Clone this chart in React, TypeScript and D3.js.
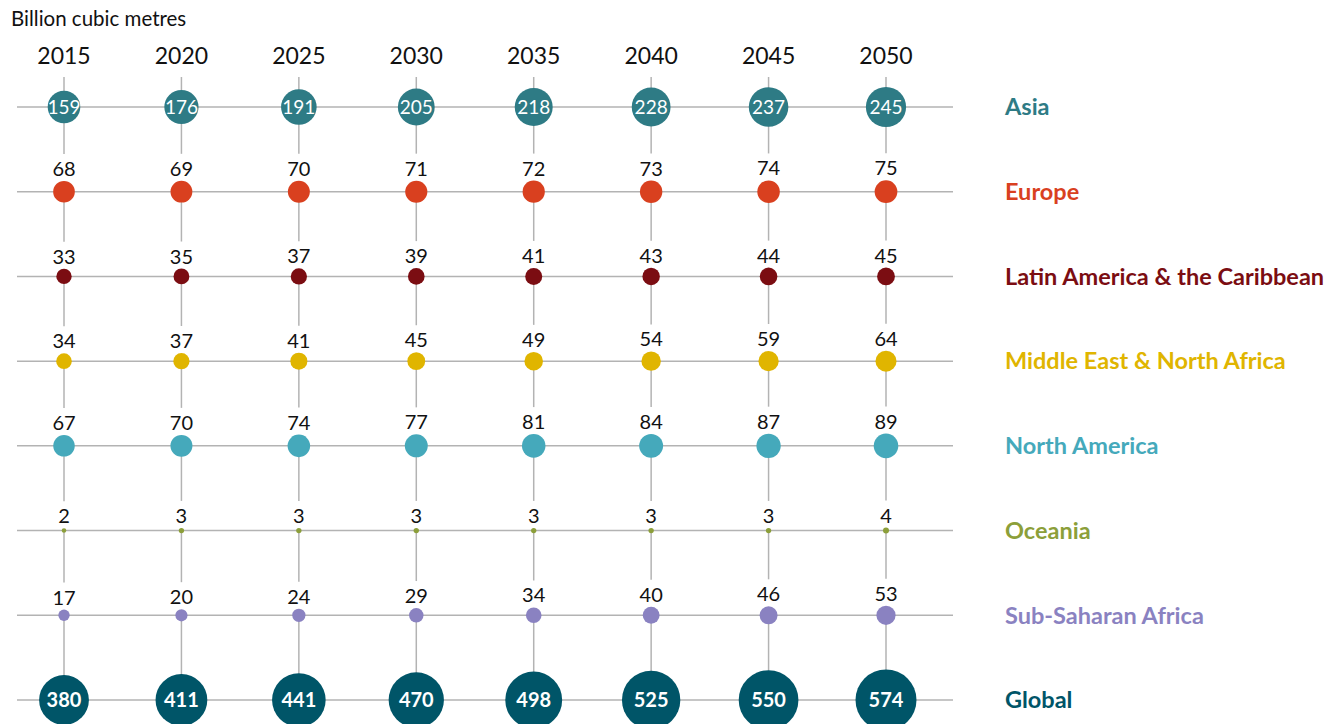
import React from 'react';
import * as d3 from 'd3';

const years = ['2015', '2020', '2025', '2030', '2035', '2040', '2045', '2050'];
const regions = [
  'Asia',
  'Europe',
  'Latin America & the Caribbean',
  'Middle East & North Africa',
  'North America',
  'Oceania',
  'Sub-Saharan Africa',
  'Global',
];
const regionColors = ['#2e7b85', '#d9401f', '#7b0d12', '#e0b500', '#45a9bb', '#8c9f3a', '#8a82c1', '#005568'];

const asia = [159, 176, 191, 205, 218, 228, 237, 245];
const europe = [68, 69, 70, 71, 72, 73, 74, 75];
const latinAmerica = [33, 35, 37, 39, 41, 43, 44, 45];
const middleEast = [34, 37, 41, 45, 49, 54, 59, 64];
const northAmerica = [67, 70, 74, 77, 81, 84, 87, 89];
const oceania = [2, 3, 3, 3, 3, 3, 3, 4];
const subSaharan = [17, 20, 24, 29, 34, 40, 46, 53];
const global = [380, 411, 441, 470, 498, 525, 550, 574];

const series = [asia, europe, latinAmerica, middleEast, northAmerica, oceania, subSaharan, global];

const W = 1338;
const H = 724;
const FONT = 'Lato, "Open Sans", sans-serif';

export default function App() {
  const x = d3.scalePoint<string>().domain(years).range([64, 886]);
  const y = d3.scalePoint<string>().domain(regions).range([107, 700]);
  const r = d3.scaleSqrt().domain([0, 574]).range([0.5, 30.5]);

  // labels sit inside the circle for the first and last row
  const inside = (ri: number) => ri === 0 || ri === regions.length - 1;

  // vertical segments: from each row down to just above the next row's value label
  const segments: { x: number; y1: number; y2: number }[] = [];
  years.forEach((yr, ci) => {
    const cx = x(yr)!;
    segments.push({ x: cx, y1: 77, y2: y(regions[0])! });
    for (let ri = 0; ri < regions.length - 1; ri++) {
      const next = ri + 1;
      const ny = y(regions[next])!;
      const end = inside(next) ? ny : ny - r(series[next][ci]) - 27;
      segments.push({ x: cx, y1: y(regions[ri])!, y2: end });
    }
  });

  return (
    <svg width={W} height={H} style={{ position: 'absolute', left: 0, top: 0 }} fontFamily={FONT}>
      <text x={11} y={26} fontSize={20.5} fill="#111">Billion cubic metres</text>

      {years.map((yr) => (
        <text key={yr} x={x(yr)} y={64} fontSize={23} textAnchor="middle" fill="#111">{yr}</text>
      ))}

      {regions.map((reg) => (
        <line key={reg} x1={17} x2={953} y1={y(reg)} y2={y(reg)} stroke="#b3b3b3" strokeWidth={1.5} />
      ))}
      {segments.map((s, i) => (
        <line key={i} x1={s.x} x2={s.x} y1={s.y1} y2={s.y2} stroke="#b3b3b3" strokeWidth={1.5} />
      ))}

      {regions.map((reg, ri) => (
        <g key={reg}>
          {series[ri].map((v, ci) => {
            const cx = x(years[ci])!;
            const cy = y(reg)!;
            const rad = r(v);
            return (
              <g key={ci}>
                <circle cx={cx} cy={cy} r={rad} fill={regionColors[ri]} />
                {inside(ri) ? (
                  <text x={cx} y={cy} dy="0.36em" textAnchor="middle" fontSize={ri === 0 ? 19 : 20}
                    fontWeight={ri === 0 ? 400 : 700} fill="#fff">{v}</text>
                ) : (
                  <text x={cx} y={cy - rad - 5} textAnchor="middle" fontSize={20} fill="#111">{v}</text>
                )}
              </g>
            );
          })}
          <text x={1005} y={y(reg)} dy="0.35em" fontSize={23.5} fontWeight={700} fill={regionColors[ri]}>{reg}</text>
        </g>
      ))}
    </svg>
  );
}
